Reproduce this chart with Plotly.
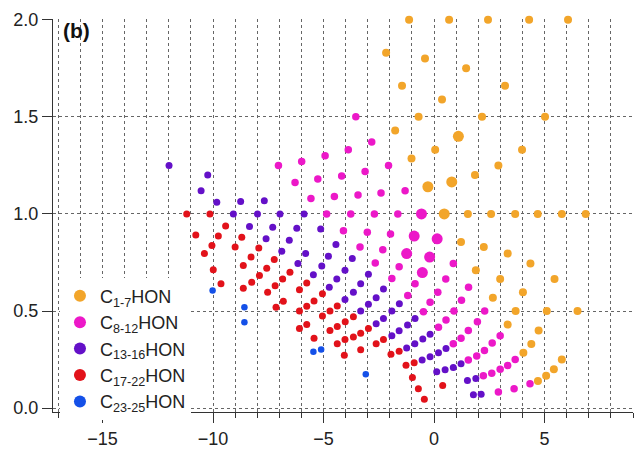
import plotly.graph_objects as go

# ---- data ----
labels = ["C<sub>1-7</sub>HON", "C<sub>8-12</sub>HON", "C<sub>13-16</sub>HON",
          "C<sub>17-22</sub>HON", "C<sub>23-25</sub>HON"]

c1_7_x = [-1.13, 0.68, 2.44, 4.30, 6.06, -2.17, -0.41, 1.45, -1.45, 3.21, 0.36, -0.70, 2.17, 5.02,
          -1.76, 1.10, 0.05, 3.98, -1.02, 2.91, 1.85, 0.80, -0.28, 0.46, 1.53, 2.58, 3.67, 4.69,
          5.78, 6.86, 1.22, 2.25, 3.33, 4.36, 5.45, 1.89, 2.99, 4.02, 2.66, 3.69, 5.10, 6.49,
          3.33, 4.73, 4.40, 4.04, 5.78, 5.42, 5.07, 4.70]
c1_7_y = [2.0, 2.0, 2.0, 2.0, 2.0, 1.83, 1.80, 1.75, 1.66, 1.66, 1.59, 1.5, 1.5, 1.5,
          1.43, 1.40, 1.33, 1.33, 1.285, 1.25, 1.20, 1.165, 1.14, 1.0, 1.0, 1.0, 1.0, 1.0,
          1.0, 1.0, 0.855, 0.83, 0.796, 0.745, 0.665, 0.71, 0.665, 0.597, 0.568, 0.50, 0.50, 0.50,
          0.43, 0.40, 0.33, 0.285, 0.25, 0.20, 0.167, 0.14]

c8_12_x = [-3.54, -2.82, -3.88, -4.93, -5.99, -7.04, -2.06, -3.12, -4.18, -5.26, -6.29, -1.31,
           -2.40, -3.44, -4.51, -5.57, -4.86, -3.77, -2.70, -1.64, -0.57, -4.10, -3.02, -1.97,
           -0.90, 0.14, -3.35, -2.32, -1.24, -0.20, -2.66, -1.58, -0.53, 0.87, -1.91, -0.86,
           0.53, -1.19, -0.18, 0.17, 1.56, -0.48, 1.24, 0.54, 0.20, 0.90, 2.29, 1.55, 1.96,
           1.22, 0.87, 2.99, 2.63, 2.28, 1.93, 1.55, 3.67, 3.33, 2.99, 2.61, 2.23, 4.34, 3.62, 2.91]
c8_12_y = [1.5, 1.37, 1.33, 1.30, 1.27, 1.25, 1.25, 1.218, 1.196, 1.18, 1.162, 1.12,
           1.108, 1.098, 1.09, 1.08, 1.0, 1.0, 1.0, 1.0, 1.0, 0.914, 0.906, 0.897,
           0.886, 0.872, 0.83, 0.816, 0.796, 0.778, 0.747, 0.728, 0.698, 0.745, 0.668, 0.64,
           0.665, 0.58, 0.545, 0.597, 0.622, 0.496, 0.555, 0.454, 0.416, 0.50, 0.50, 0.40, 0.445,
           0.36, 0.332, 0.373, 0.335, 0.297, 0.268, 0.248, 0.25, 0.22, 0.20, 0.18, 0.167, 0.125, 0.10, 0.083]

c13_16_x = [-11.99, -10.24, -10.54, -9.83, -8.75, -7.68, -9.08, -7.99, -6.97, -5.88, -8.35, -7.30,
            -6.21, -5.13, -7.60, -6.55, -4.44, -6.89, -5.81, -4.78, -3.70, -6.16, -5.08, -4.03,
            -2.97, -5.46, -4.40, -3.32, -2.29, -4.74, -3.65, -4.03, -2.97, -1.57, -2.62, -3.32,
            -1.91, -2.29, -2.62, -0.86, -1.20, -1.58, -1.91, -0.18, -0.51, -0.87, -1.24, 0.54,
            0.20, -0.18, -0.54, 0.12, 0.50, 0.87, 1.22, 1.51, 1.89, 1.78, 2.13]
c13_16_y = [1.25, 1.20, 1.12, 1.06, 1.064, 1.068, 1.0, 1.0, 1.0, 1.0, 0.935, 0.931,
            0.926, 0.922, 0.872, 0.864, 0.843, 0.808, 0.796, 0.782, 0.77, 0.745, 0.732, 0.71,
            0.69, 0.687, 0.665, 0.64, 0.614, 0.622, 0.597, 0.56, 0.535, 0.538, 0.568, 0.50,
            0.50, 0.462, 0.435, 0.462, 0.428, 0.398, 0.373, 0.381, 0.356, 0.332, 0.31, 0.307,
            0.285, 0.265, 0.248, 0.187, 0.197, 0.209, 0.229, 0.142, 0.153, 0.069, 0.071]

c17_22_x = [-11.19, -10.14, -10.78, -9.76, -9.43, -10.05, -10.39, -9.99, -9.64, -8.70, -9.00,
            -7.93, -8.28, -8.63, -7.23, -7.57, -7.90, -8.25, -8.63, -6.52, -6.85, -7.19, -7.53,
            -5.76, -6.09, -6.82, -7.15, -5.05, -5.43, -5.76, -6.09, -5.05, -5.76, -6.09, -5.43,
            -4.71, -4.38, -4.71, -4.38, -4.02, -3.65, -4.38, -4.03, -3.65, -3.32, -2.97, -4.06,
            -3.32, -2.62, -2.29, -1.95, -1.58, -1.27, -0.90, -0.98, -0.71, -0.44, 0.39]
c17_22_y = [1.0, 1.0, 0.892, 0.887, 0.938, 0.838, 0.796, 0.712, 0.64, 0.88, 0.83,
            0.825, 0.778, 0.735, 0.766, 0.72, 0.683, 0.648, 0.617, 0.70, 0.665, 0.63, 0.597,
            0.644, 0.61, 0.55, 0.52, 0.589, 0.552, 0.525, 0.50, 0.474, 0.43, 0.41, 0.36,
            0.50, 0.526, 0.40, 0.42, 0.445, 0.47, 0.332, 0.353, 0.366, 0.386, 0.41, 0.272,
            0.30, 0.332, 0.353, 0.277, 0.293, 0.221, 0.234, 0.158, 0.10, 0.046, 0.116]

c23_25_x = [-10.02, -8.58, -8.58, -5.46, -5.11, -3.09]
c23_25_y = [0.606, 0.52, 0.442, 0.29, 0.302, 0.175]

x_ticks = [-15, -10, -5, 0, 5]
y_ticks = [0.0, 0.5, 1.0, 1.5, 2.0]
y_ticktext = ["0.0", "0.5", "1.0", "1.5", "2.0"]

# indices of the visibly larger markers
big_c1_7 = {15, 21, 22, 23}
big_c8_12 = {20, 24, 25, 28, 29, 32}

colors = ["#F2A52A", "#EC18C8", "#6410C8", "#E2121A", "#1450E8"]

series = [
    (c1_7_x, c1_7_y, big_c1_7, 8),
    (c8_12_x, c8_12_y, big_c8_12, 7.5),
    (c13_16_x, c13_16_y, set(), 7),
    (c17_22_x, c17_22_y, set(), 7),
    (c23_25_x, c23_25_y, set(), 6.5),
]

FONT = "Arial, 'Liberation Sans', sans-serif"

fig = go.Figure()
for (xs, ys, big, base), name, col in zip(series, labels, colors):
    sizes = [11 if i in big else base for i in range(len(xs))]
    fig.add_trace(go.Scatter(
        x=xs, y=ys, mode="markers", name=name,
        marker=dict(color=col, size=sizes, opacity=1, line=dict(width=0)),
        cliponaxis=False,
    ))

grid_col = "#666666"
fig.update_layout(
    width=643, height=459,
    margin=dict(l=53, r=10, t=17, b=42),
    paper_bgcolor="white", plot_bgcolor="white",
    font=dict(family=FONT, size=18, color="#222222"),
    showlegend=True,
    legend=dict(
        x=0.012, y=0.342, xanchor="left", yanchor="top",
        bgcolor="white", borderwidth=0,
        font=dict(family=FONT, size=18, color="#222222"),
        itemsizing="constant", tracegroupgap=0,
    ),
    xaxis=dict(
        range=[-17.24, 9.0], tickmode="array", tickvals=x_ticks,
        ticks="outside", ticklen=10, tickwidth=1, tickcolor="#333333",
        showline=True, linecolor="#333333", linewidth=1,
        showgrid=True, gridcolor=grid_col, griddash="dot", gridwidth=1,
        zeroline=False,
        minor=dict(dtick=1, tick0=0, ticks="outside", ticklen=5, tickcolor="#333333",
                   showgrid=True, gridcolor=grid_col, griddash="dot", gridwidth=1),
        tickfont=dict(size=18),
    ),
    yaxis=dict(
        range=[-0.02, 2.004], tickmode="array", tickvals=y_ticks, ticktext=y_ticktext,
        ticks="outside", ticklen=10, tickwidth=1, tickcolor="#333333",
        showline=True, linecolor="#333333", linewidth=1,
        showgrid=True, gridcolor=grid_col, griddash="dot", gridwidth=1,
        zeroline=False,
        tickfont=dict(size=18),
    ),
    annotations=[dict(
        text="<b>(b)</b>", xref="paper", yref="paper", x=0.014, y=1.005,
        xanchor="left", yanchor="top", showarrow=False,
        font=dict(family=FONT, size=21, color="#111111"),
    )],
)

fig.write_html("out.html")
